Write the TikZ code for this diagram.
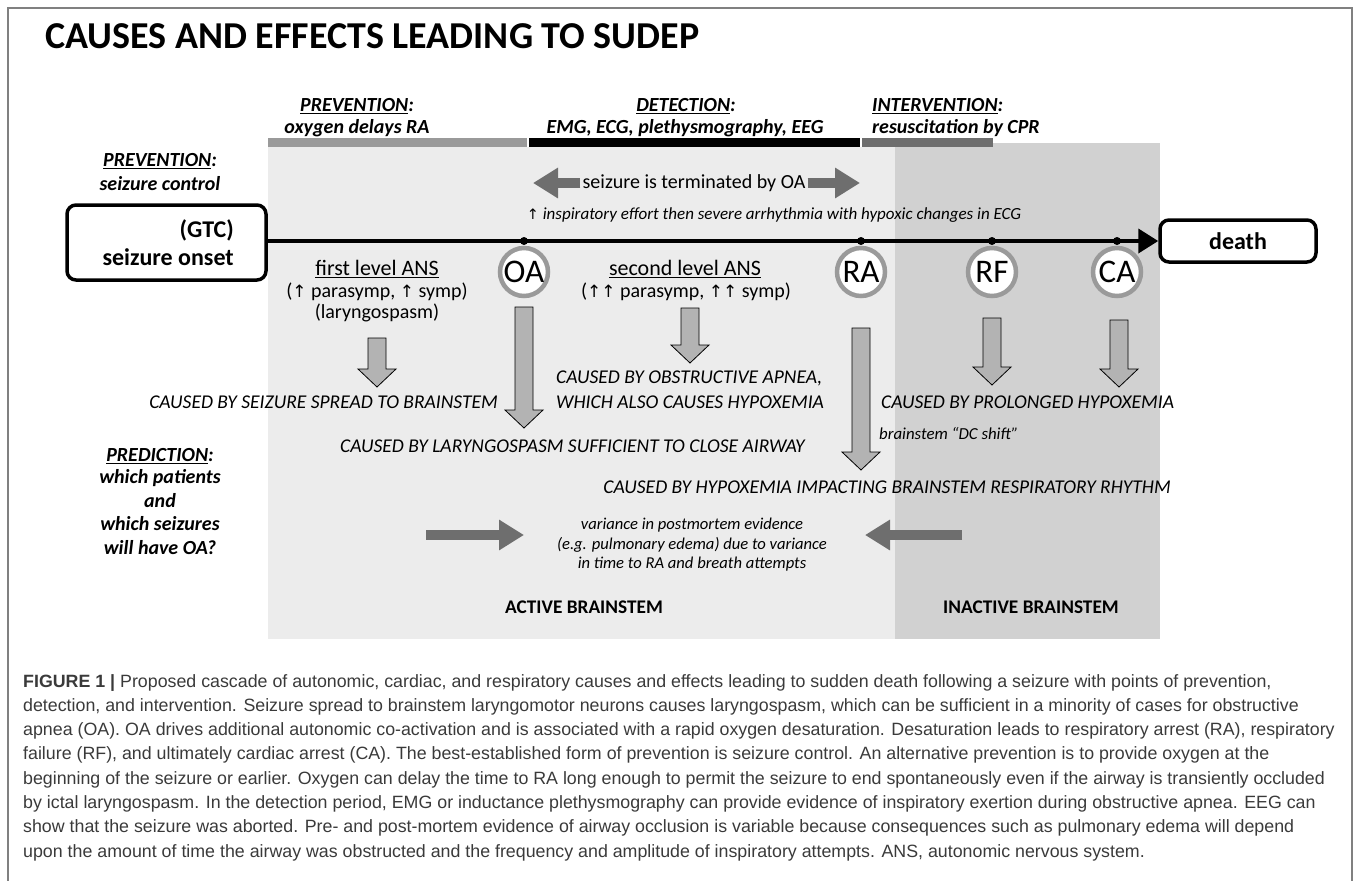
\documentclass[tikz,border=0pt]{standalone}
\usepackage{fontspec}
\setmainfont{Carlito}
\newfontfamily\capfont{Liberation Sans}
\newfontfamily\symf{DejaVu Sans}
\usetikzlibrary{arrows.meta}
\newcommand\uarr{{\symf\fontsize{0.85em}{1em}\selectfont ↑}}
\newcommand\dnblk[3]{% x, y top, y tip
  \draw[blkarrow] (#1-9,#2) -- (#1-9,#3-18) -- (#1-19,#3-18) -- (#1,#3) -- (#1+19,#3-18) -- (#1+9,#3-18) -- (#1+9,#2) -- cycle;}
\definecolor{lightbg}{HTML}{ECECEC}
\definecolor{darkbg}{HTML}{D1D1D1}
\definecolor{ringgrey}{HTML}{9A9A9A}
\definecolor{fatgrey}{HTML}{6E6E6E}
\definecolor{blkfill}{HTML}{B3B3B3}
\definecolor{captxt}{HTML}{3A3A3A}
\tikzset{
  blkarrow/.style={fill=blkfill, draw=black, line width=0.8pt},
  fatarrow/.style={draw=fatgrey, line width=10pt, -{Triangle[length=25pt,width=29pt]}},
  hdr/.style={font=\fontsize{20}{24}\selectfont\bfseries\itshape, inner sep=0pt},
  causetxt/.style={font=\fontsize{19.5}{22}\selectfont\itshape, inner sep=0pt},
  ring/.style={circle, draw=ringgrey, line width=4.5pt, fill=white, minimum size=48pt, inner sep=0pt, font=\fontsize{33}{33}\selectfont},
  bigbox/.style={draw=black, line width=3.5pt, rounded corners=9pt, inner sep=0pt},
  dot/.style={circle, fill=black, minimum size=8pt, inner sep=0pt},
  plain/.style={inner sep=0pt, font=\fontsize{20}{24}\selectfont},
  anshead/.style={inner sep=0pt, font=\fontsize{22}{24}\selectfont},
  zone/.style={inner sep=0pt, font=\fontsize{19.3}{22}\selectfont\bfseries},
  captline/.style={anchor=base west, inner sep=0pt, text=captxt, font=\capfont\fontsize{17.8}{20}\selectfont},
}
\begin{document}
\begin{tikzpicture}[x=1pt,y=-1pt]
\useasboundingbox (0,0) rectangle (1358,881);
% frame
\draw[gray, line width=1.5pt] (8,881) -- (8,8) -- (1352,8) -- (1352,881);
% backgrounds
\fill[lightbg] (268,147) rectangle (895,639);
\fill[darkbg] (895,143) rectangle (1160,639);
% top bars
\fill[ringgrey] (268,138) rectangle (527,147);
\fill[black] (529,138) rectangle (860,147);
\fill[fatgrey] (862,138) rectangle (993,147);
% title
\node[anchor=base west, inner sep=0pt, font=\fontsize{38}{42}\selectfont\bfseries] (title) at (45,48) {CAUSES AND EFFECTS LEADING TO SUDEP};
% headers
\node[hdr] (h1a) at (357,106) {\underline{PREVENTION}:};
\node[hdr] (h1b) at (357,128) {oxygen delays RA};
\node[hdr] (h2a) at (686,106) {\underline{DETECTION}:};
\node[hdr] (h2b) at (685,128) {EMG, ECG, plethysmography, EEG};
\node[hdr, anchor=west] (h3a) at (872,106) {\underline{INTERVENTION}:};
\node[hdr, anchor=west] (h3b) at (872,128) {resuscitation by CPR};
\node[hdr] (p1a) at (160,161) {\underline{PREVENTION}:};
\node[hdr] (p1b) at (160,184) {seizure control};
% boxes
\node[bigbox, minimum width=199pt, minimum height=75pt] (gtc) at (166.5,242.5) {};
\node[anchor=east, inner sep=0pt, font=\fontsize{24}{26}\selectfont\bfseries] (gtc1) at (234,230) {(GTC)};
\node[anchor=east, inner sep=0pt, font=\fontsize{24}{26}\selectfont\bfseries] (gtc2) at (234,257) {seizure onset};
\node[bigbox, minimum width=156pt, minimum height=42pt, font=\fontsize{24}{26}\selectfont\bfseries] (death) at (1238,241) {death};
% timeline
\draw[line width=4pt, -{Triangle[length=20pt,width=24pt]}] (gtc.east |- 0,241) -- (death.west);
\node[dot] (d1) at (524,241) {};
\node[dot] (d2) at (861,241) {};
\node[dot] (d3) at (992,241) {};
\node[dot] (d4) at (1117,241) {};
\node[ring] (oa) at (524,272) {OA};
\node[ring] (ra) at (861,272) {RA};
\node[ring] (rf) at (992,272) {RF};
\node[ring] (ca) at (1117,272) {CA};
% seizure terminated
\node[plain] (term) at (694,183) {seizure is terminated by OA};
\coordinate (tl) at (533,183);
\coordinate (tr) at (860,183);
\draw[fatarrow] (term.west) ++(-2,0) -- (tl);
\draw[fatarrow] (term.east) ++(2,0) -- (tr);
\node[inner sep=0pt, font=\fontsize{17}{20}\selectfont\itshape] (insp) at (774,215) {\uarr{} inspiratory effort then severe arrhythmia with hypoxic changes in ECG};
% ANS texts
\node[anshead] (fl1) at (377,269) {\underline{first level ANS}};
\node[plain] (fl2) at (377,292) {(\uarr{} parasymp, \uarr{} symp)};
\node[plain] (fl3) at (377,313) {(laryngospasm)};
\node[anshead] (sl1) at (685,269) {\underline{second level ANS}};
\node[plain] (sl2) at (686,292) {(\uarr\uarr{} parasymp, \uarr\uarr{} symp)};
% block arrows
\dnblk{377}{338}{387}
\dnblk{524}{307}{428}
\dnblk{690}{308}{363}
\dnblk{861}{328}{470}
\dnblk{992}{318}{385}
\dnblk{1119}{320}{387}
% cause texts
\node[causetxt, anchor=east] (c1) at (498,402) {CAUSED BY SEIZURE SPREAD TO BRAINSTEM};
\node[causetxt, anchor=west] (c2a) at (556,378) {CAUSED BY OBSTRUCTIVE APNEA,};
\node[causetxt, anchor=west] (c2b) at (556,402) {WHICH ALSO CAUSES HYPOXEMIA};
\node[causetxt, anchor=west] (c3) at (881,402) {CAUSED BY PROLONGED HYPOXEMIA};
\node[causetxt, anchor=west] (c4) at (340,446) {CAUSED BY LARYNGOSPASM SUFFICIENT TO CLOSE AIRWAY};
\node[inner sep=0pt, anchor=west, font=\fontsize{16.8}{19}\selectfont\itshape] (dc) at (879,434) {brainstem “DC shift”};
\node[causetxt, anchor=east] (c5) at (1171,487) {CAUSED BY HYPOXEMIA IMPACTING BRAINSTEM RESPIRATORY RHYTHM};
% prediction
\node[hdr] (pr1) at (160,456) {\underline{PREDICTION}:};
\node[hdr] (pr2) at (160,478) {which patients};
\node[hdr] (pr3) at (160,501) {and};
\node[hdr] (pr4) at (160,524) {which seizures};
\node[hdr] (pr5) at (160,548) {will have OA?};
% variance
\node[inner sep=0pt, align=center, font=\fontsize{16.6}{19.5}\selectfont\itshape] (var) at (692,545) {variance in postmortem evidence\\(e.g. pulmonary edema) due to variance\\in time to RA and breath attempts};
\coordinate (al) at (426,535);
\coordinate (alt) at (524,535);
\coordinate (ar) at (962,535);
\coordinate (art) at (865,535);
\draw[fatarrow] (al) -- (alt);
\draw[fatarrow] (ar) -- (art);
\node[zone] (act) at (584,607) {ACTIVE BRAINSTEM};
\node[zone] (inact) at (1031,607) {INACTIVE BRAINSTEM};
% caption
\node[captline] (cl1) at (23,687) {\textbf{FIGURE 1 |} Proposed cascade of autonomic, cardiac, and respiratory causes and effects leading to sudden death following a seizure with points of prevention,};
\node[captline] (cl2) at (23,711.3) {detection, and intervention. Seizure spread to brainstem laryngomotor neurons causes laryngospasm, which can be sufficient in a minority of cases for obstructive};
\node[captline] (cl3) at (23,735.6) {apnea (OA). OA drives additional autonomic co-activation and is associated with a rapid oxygen desaturation. Desaturation leads to respiratory arrest (RA), respiratory};
\node[captline] (cl4) at (23,759.9) {failure (RF), and ultimately cardiac arrest (CA). The best-established form of prevention is seizure control. An alternative prevention is to provide oxygen at the};
\node[captline] (cl5) at (23,784.2) {beginning of the seizure or earlier. Oxygen can delay the time to RA long enough to permit the seizure to end spontaneously even if the airway is transiently occluded};
\node[captline] (cl6) at (23,808.5) {by ictal laryngospasm. In the detection period, EMG or inductance plethysmography can provide evidence of inspiratory exertion during obstructive apnea. EEG can};
\node[captline] (cl7) at (23,832.8) {show that the seizure was aborted. Pre- and post-mortem evidence of airway occlusion is variable because consequences such as pulmonary edema will depend};
\node[captline] (cl8) at (23,857.1) {upon the amount of time the airway was obstructed and the frequency and amplitude of inspiratory attempts. ANS, autonomic nervous system.};
\end{tikzpicture}
\end{document}
